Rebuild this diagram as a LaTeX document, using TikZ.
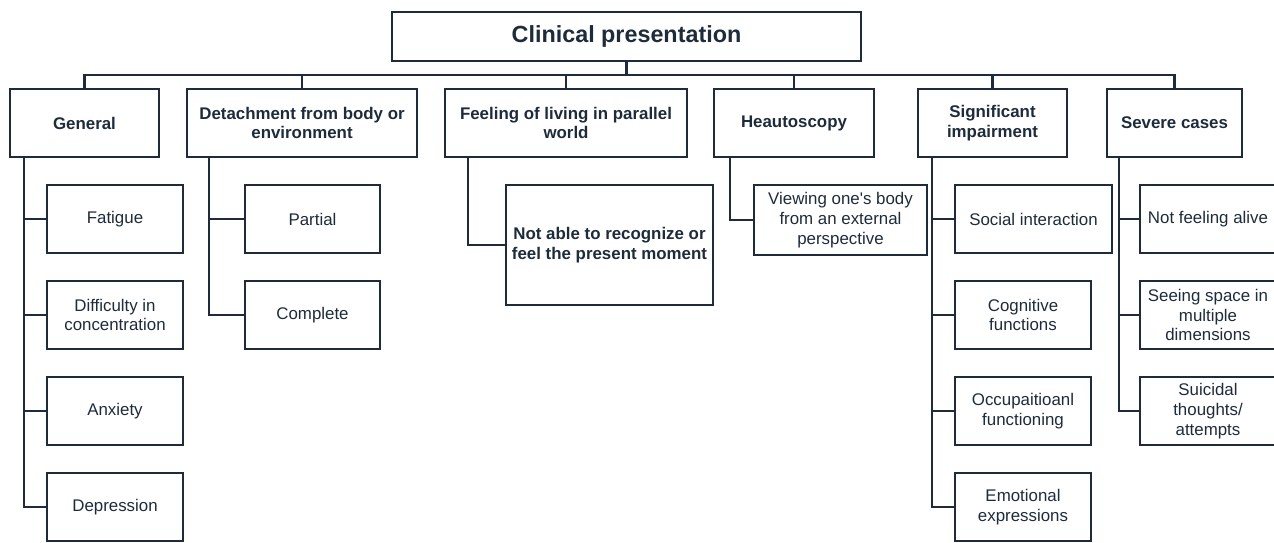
\documentclass[tikz,border=0pt]{standalone}
\usepackage{fontspec}
\setmainfont{Liberation Sans}
\usepackage{tikz}
\definecolor{navy}{HTML}{1E2B3B}
\tikzset{
box/.style={shape=rectangle, draw=navy, line width=1.6pt, text=navy, align=center, inner sep=2pt,
    font=\fontsize{12}{14}\selectfont\bfseries, minimum height=1.7cm},
subbox/.style={box, font=\fontsize{12}{14}\selectfont, minimum width=3.4cm},
link/.style={draw=navy, line width=1.6pt}}

\begin{document}
\begin{tikzpicture}[x=0.025cm, y=-0.025cm]
                \useasboundingbox (0,0) rectangle (1274,542);

                \node[box, minimum width=11.725cm, minimum height=1.225cm, font=\fontsize{16.6}{19}\selectfont\bfseries] (root) at (626.5,36.5) {Clinical presentation};

                \node[box, minimum width=3.725cm] (gen) at (84.5,123) {General};
                \node[box, minimum width=5.75cm] (det) at (302,123) {Detachment from body or\\environment};
                \node[box, minimum width=6.05cm] (feel) at (566,123) {Feeling of living in parallel\\world};
                \node[box, minimum width=4cm] (heau) at (794,123) {Heautoscopy};
                \node[box, minimum width=3.725cm] (sig) at (992.5,123) {Significant\\impairment};
                \node[box, minimum width=3.375cm] (sev) at (1174.5,123) {Severe cases};

                \node[subbox] (fat) at (115,219) {Fatigue};
                \node[subbox] (conc) at (115,315) {Difficulty in\\concentration};
                \node[subbox] (anx) at (115,411) {Anxiety};
                \node[subbox] (dep) at (115,507) {Depression};

                \node[subbox, minimum width=3.375cm] (part) at (312.5,219) {Partial};
                \node[subbox, minimum width=3.375cm] (comp) at (312.5,315) {Complete};

                \node[box, minimum width=5.175cm, minimum height=3cm] (moment) at (609.5,245) {Not able to recognize or\\feel the present moment};

                \node[subbox, minimum width=4.325cm, minimum height=1.75cm] (view) at (840.5,220) {Viewing one\textquotesingle s body\\from an external\\perspective};

                \node[subbox, minimum width=3.925cm] (soc) at (1033.5,219) {Social interaction};
                \node[subbox] (cog) at (1023,315) {Cognitive\\functions};
                \node[subbox] (occ) at (1023,411) {Occupaitioanl\\functioning};
                \node[subbox] (emo) at (1023,507) {Emotional\\expressions};

                \node[subbox] (alive) at (1208,219) {Not feeling alive};
                \node[subbox] (space) at (1208,315) {Seeing space in\\multiple\\dimensions};
                \node[subbox] (suic) at (1208,411) {Suicidal\\thoughts/\\attempts};

                \coordinate (bus) at (626.5,75);
                \draw[link] (root.south) -- (bus);
                \foreach \n in {gen,det,feel,heau,sig,sev}
                    \draw[link] (bus) -| (\n.north);

                \foreach \c in {fat,conc,anx,dep}
                    \draw[link] ([xshift=0.375cm]gen.south west) |- (\c.west);
                \foreach \c in {part,comp}
                    \draw[link] ([xshift=0.575cm]det.south west) |- (\c.west);
                \draw[link] ([xshift=0.6cm]feel.south west) |- (moment.west);
                \draw[link] ([xshift=0.425cm]heau.south west) |- (view.west);
                \foreach \c in {soc,cog,occ,emo}
                    \draw[link] ([xshift=0.375cm]sig.south west) |- (\c.west);
                \foreach \c in {alive,space,suic}
                    \draw[link] ([xshift=0.325cm]sev.south west) |- (\c.west);

            \end{tikzpicture}
\end{document}
